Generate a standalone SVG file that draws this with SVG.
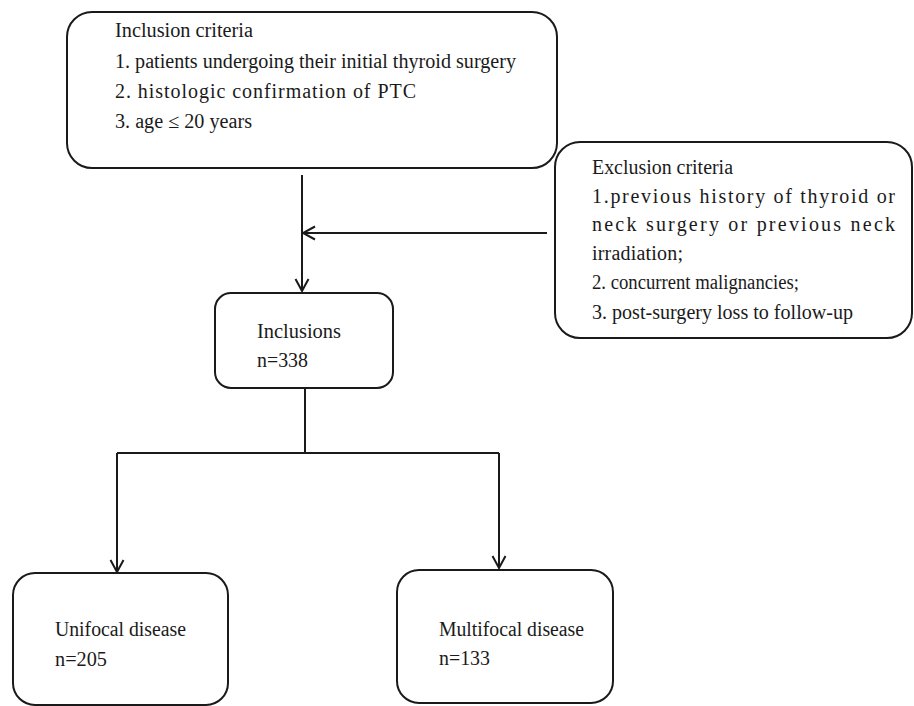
<svg xmlns="http://www.w3.org/2000/svg" width="914" height="706" viewBox="0 0 914 706">
<style>
.box{fill:#fff;stroke:#1a1a1a;stroke-width:2}
.t{font-family:"Liberation Serif","Times New Roman",serif;font-size:20px;fill:#1a1a1a}
.c{fill:none;stroke:#1a1a1a;stroke-width:2}
</style>
<defs>
<marker id="arr" viewBox="0 0 16 16" refX="14" refY="8" markerWidth="16" markerHeight="16" markerUnits="userSpaceOnUse" orient="auto">
<path d="M2 1.5 L14 8 L2 14.5" fill="none" stroke="#1a1a1a" stroke-width="2"/>
</marker>
</defs>
<rect width="914" height="706" fill="#fff"/>
<g id="connectors">
<path class="c" d="M302 175 V291" marker-end="url(#arr)"/>
<path class="c" d="M547 233 H303" marker-end="url(#arr)"/>
<path class="c" d="M305 388 V453"/>
<path class="c" d="M117 453 H499"/>
<path class="c" d="M117 453 V572" marker-end="url(#arr)"/>
<path class="c" d="M499 453 V568" marker-end="url(#arr)"/>
</g>
<g id="inclusion-criteria">
<rect class="box" x="67" y="12" width="490" height="156" rx="25" ry="25"/>
<text class="t" x="115" y="37" textLength="138" lengthAdjust="spacingAndGlyphs">Inclusion criteria</text>
<text class="t" x="115" y="68" textLength="401" lengthAdjust="spacingAndGlyphs">1. patients undergoing their initial thyroid surgery</text>
<text class="t" x="115" y="98" textLength="301" lengthAdjust="spacing">2. histologic confirmation of PTC</text>
<text class="t" x="115" y="128" textLength="137" lengthAdjust="spacingAndGlyphs">3. age ≤ 20 years</text>
</g>
<g id="exclusion-criteria">
<rect class="box" x="555" y="142" width="357" height="196" rx="25" ry="25"/>
<text class="t" x="592" y="174" textLength="141" lengthAdjust="spacingAndGlyphs">Exclusion criteria</text>
<text class="t" x="592" y="203" textLength="303" lengthAdjust="spacing">1.previous history of thyroid or</text>
<text class="t" x="592" y="231" textLength="303" lengthAdjust="spacing">neck surgery or previous neck</text>
<text class="t" x="592" y="260" textLength="91" lengthAdjust="spacing">irradiation;</text>
<text class="t" x="592" y="289" textLength="207" lengthAdjust="spacingAndGlyphs">2. concurrent malignancies;</text>
<text class="t" x="592" y="319" textLength="261" lengthAdjust="spacingAndGlyphs">3. post-surgery loss to follow-up</text>
</g>
<g id="inclusions">
<rect class="box" x="215" y="293" width="178" height="95" rx="16" ry="16"/>
<text class="t" x="257" y="338" textLength="84" lengthAdjust="spacingAndGlyphs">Inclusions</text>
<text class="t" x="257" y="367" textLength="51" lengthAdjust="spacingAndGlyphs">n=338</text>
</g>
<g id="unifocal">
<rect class="box" x="13" y="573" width="215" height="132" rx="22" ry="22"/>
<text class="t" x="55" y="636" textLength="131" lengthAdjust="spacingAndGlyphs">Unifocal disease</text>
<text class="t" x="55" y="666" textLength="52" lengthAdjust="spacingAndGlyphs">n=205</text>
</g>
<g id="multifocal">
<rect class="box" x="397" y="570" width="216" height="133" rx="22" ry="22"/>
<text class="t" x="439" y="636" textLength="145" lengthAdjust="spacingAndGlyphs">Multifocal disease</text>
<text class="t" x="439" y="665" textLength="51" lengthAdjust="spacingAndGlyphs">n=133</text>
</g>
</svg>
